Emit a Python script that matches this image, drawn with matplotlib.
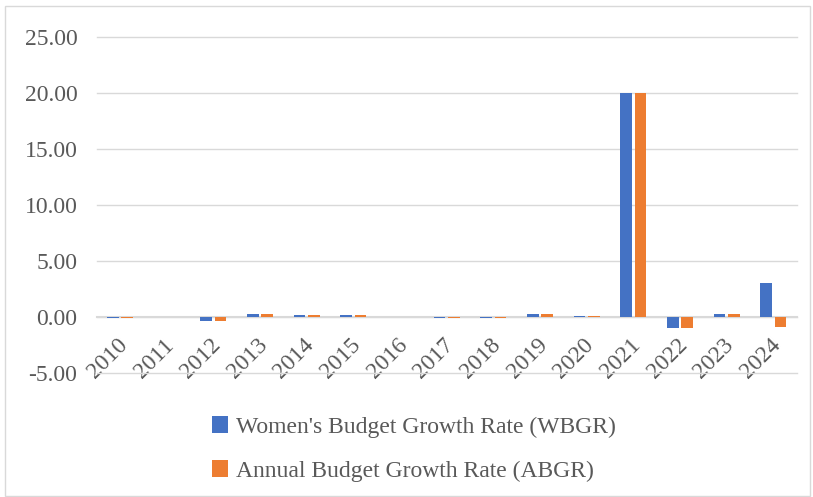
import numpy as np
import matplotlib.pyplot as plt
import matplotlib.transforms as mtransforms
from matplotlib.patches import Rectangle

years = ["2010", "2011", "2012", "2013", "2014", "2015", "2016", "2017",
         "2018", "2019", "2020", "2021", "2022", "2023", "2024"]
wbgr = [-0.05, 0.05, -0.35, 0.30, 0.20, 0.20, 0.05, -0.05,
        -0.05, 0.30, 0.10, 19.95, -1.00, 0.25, 3.05]
abgr = [-0.05, 0.05, -0.35, 0.30, 0.20, 0.20, 0.05, -0.05,
        -0.05, 0.30, 0.10, 19.95, -1.00, 0.25, -0.85]

plt.rcParams['font.family'] = ['Liberation Serif', 'DejaVu Serif']

fig = plt.figure(figsize=(8.13, 4.97), dpi=100)
ax = fig.add_axes([0.119, 0.249, 0.861, 0.677])

x = np.arange(len(years))
w = 0.25
ax.bar(x - 0.155, wbgr, w, color="#4472C4", label="Women's Budget Growth Rate (WBGR)", zorder=3)
ax.bar(x + 0.155, abgr, w, color="#ED7D31", label="Annual Budget Growth Rate (ABGR)", zorder=3)

ax.set_xlim(-0.5, len(years) - 0.5)
ax.set_ylim(-5, 25)
ax.set_yticks(np.arange(-5, 26, 5))
ax.set_yticklabels([f"{v:.2f}" for v in np.arange(-5, 26, 5)])
ax.grid(axis='y', color="#D9D9D9", linewidth=1, zorder=0)
for gl in ax.get_ygridlines():
    gl.set_clip_on(False)

for s in ['top', 'right', 'left']:
    ax.spines[s].set_visible(False)
ax.spines['bottom'].set_position(('data', 0))
ax.spines['bottom'].set_color("#D9D9D9")
ax.spines['bottom'].set_linewidth(1.5)
ax.spines['bottom'].set_zorder(2)

ax.set_xticks(x)
ax.set_xticklabels(years, rotation=45, ha='right', va='center', rotation_mode='anchor')
ax.tick_params(axis='x', length=0, pad=18, labelsize=17, colors="#595959")
ax.tick_params(axis='y', length=0, pad=14, labelsize=17, colors="#595959")
shift = mtransforms.ScaledTranslation(4 / 100, 0, fig.dpi_scale_trans)
for lbl in ax.get_xticklabels():
    lbl.set_transform(lbl.get_transform() + shift)

ax.legend(loc='upper center', bbox_to_anchor=(0.453, -0.065), ncol=1, frameon=False,
          fontsize=17, labelcolor="#595959", handlelength=0.7, handleheight=0.7,
          labelspacing=0.95, handletextpad=0.35)

fig.patches.append(Rectangle((0.006, 0.002), 0.99, 0.985, transform=fig.transFigure,
                             fill=False, edgecolor="#D9D9D9", linewidth=1))

fig.savefig("out.png", dpi=100)
